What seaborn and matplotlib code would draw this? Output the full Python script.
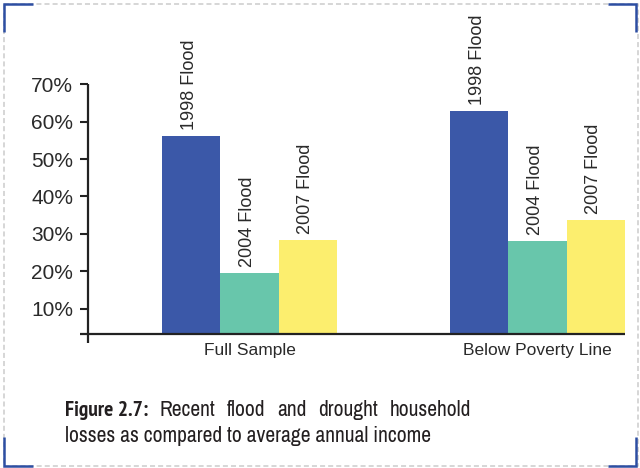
import numpy as np
import pandas as pd
import seaborn as sns
import matplotlib
matplotlib.use("Agg")
import matplotlib.pyplot as plt
from matplotlib import font_manager
from matplotlib.font_manager import FontProperties
from matplotlib.lines import Line2D

# Data: household losses as a share of average annual income (%)
groups = ["Full Sample", "Below Poverty Line"]
floods = ["1998 Flood", "2004 Flood", "2007 Flood"]
full_sample = [56.2, 19.6, 28.4]
below_poverty = [62.9, 28.1, 33.7]
y_ticks = [10, 20, 30, 40, 50, 60, 70]
bar_colors = ["#3B58A8", "#68C6AB", "#FCEE6E"]

caption_bold = "Figure 2.7:"
caption_line1 = "Recent flood and drought household"
caption_line2 = "losses as compared to average annual income"

df = pd.DataFrame({
    "group": np.repeat(groups, len(floods)),
    "flood": floods * len(groups),
    "loss": full_sample + below_poverty,
})

sns.set_theme(style="white")
plt.rcParams["font.family"] = ["Liberation Sans", "DejaVu Sans"]


def narrow_font(bold):
    """Pick a condensed sans face for the caption, if one is installed."""
    want = {"bold", 700, "700"} if bold else {"normal", "regular", 400, "400", "book"}
    entries = [f for f in font_manager.fontManager.ttflist
               if f.style == "normal" and f.weight in want]

    def rank(f):
        if f.name == "Liberation Sans Narrow":
            return 0
        if "Narrow" in f.name:
            return 1
        if "Condensed" in f.name and "Semi" not in f.name:
            return 2
        if str(f.stretch) in ("condensed", "semi-condensed"):
            return 3
        return None

    ranked = sorted((rank(f), f.name, f.fname) for f in entries if rank(f) is not None)
    if ranked:
        return FontProperties(fname=ranked[0][2]), True
    return FontProperties(family="Liberation Sans",
                          weight="bold" if bold else "normal"), False


cap_reg, cond = narrow_font(False)
cap_bold, _ = narrow_font(True)
cap_size = 15.5 if cond else 12.8
cap_reg.set_size(cap_size)
cap_bold.set_size(cap_size)
if cap_bold.get_file() is None:
    cap_bold.set_weight("bold")

W, H = 640, 468
fig = plt.figure(figsize=(W / 100, H / 100), dpi=100)
fig.patch.set_facecolor("white")


def fx(px):
    return px / W


def fy(py):
    return 1 - py / H


# plot area: y axis at x=88, baseline at y=334, 70% line at y=84
ax = fig.add_axes([fx(88), fy(334), fx(625) - fx(88), fy(84.3) - fy(334)])
sns.barplot(
    data=df, x="group", y="loss", hue="flood",
    order=groups, hue_order=floods, palette=bar_colors,
    saturation=1, width=0.608, gap=0, errorbar=None,
    legend=False, ax=ax, linewidth=0, edgecolor="none",
)
ax.set_xlim(-0.561, 1.304)
ax.set_ylim(3.22, 70)
ax.set_xlabel("")
ax.set_ylabel("")
ax.set_facecolor("none")

for s in ax.spines.values():
    s.set_visible(False)

axis_col = "#222222"
ax_h = 334 - 84.3
ax_w = 625 - 88
ax.add_line(Line2D([0, 0], [1, -9 / ax_h], transform=ax.transAxes,
                   color=axis_col, lw=1.6, clip_on=False, solid_capstyle="butt"))
ax.add_line(Line2D([-8 / ax_w, 1], [0, 0], transform=ax.transAxes,
                   color=axis_col, lw=1.6, clip_on=False, solid_capstyle="butt"))

ax.set_yticks(y_ticks)
ax.set_yticklabels([f"{t}%" for t in y_ticks])
ax.tick_params(axis="y", left=True, direction="out", length=5.8, width=1.5,
               color=axis_col, pad=5, labelsize=15, labelcolor="#2a2a2a")
ax.tick_params(axis="x", bottom=False, length=0, pad=6.5,
               labelsize=12.5, labelcolor="#2a2a2a")

# rotated flood labels sitting on top of each bar
for i, cont in enumerate(ax.containers):
    for bar in cont:
        xc = bar.get_x() + bar.get_width() / 2
        top = bar.get_y() + bar.get_height()
        ax.annotate(floods[i], xy=(xc, top), xytext=(-1.5, 4.5),
                    textcoords="offset points", rotation=90,
                    ha="center", va="bottom", fontsize=13, color="#2a2a2a",
                    annotation_clip=False)

# caption, first line justified between x=65 and x=471
renderer = fig.canvas.get_renderer()
left_px, right_px = 65, 471
base1, base2 = 416, 442
items = [fig.text(fx(left_px), fy(base1), caption_bold, fontproperties=cap_bold,
                  color="#231f20", va="baseline")]
for w in caption_line1.split():
    items.append(fig.text(0, fy(base1), w, fontproperties=cap_reg,
                          color="#231f20", va="baseline"))
widths = [t.get_window_extent(renderer).width for t in items]
gap = (right_px - left_px - sum(widths)) / (len(items) - 1)
x = left_px
for t, w in zip(items, widths):
    t.set_x(fx(x))
    x += w + gap
fig.text(fx(left_px), fy(base2), caption_line2, fontproperties=cap_reg,
         color="#231f20", va="baseline")

# dashed frame
frame_col = "#cccccc"
fx0, fx1, fy0, fy1 = 3.5, 637.5, 3.5, 466
fig.add_artist(Line2D([fx(fx0), fx(fx1), fx(fx1), fx(fx0), fx(fx0)],
                      [fy(fy0), fy(fy0), fy(fy1), fy(fy1), fy(fy0)],
                      transform=fig.transFigure, color=frame_col, lw=1.1,
                      linestyle=(0, (3.3, 2.0))))

# blue corner brackets
blue = "#2D4EA2"
corners = [
    ([4, 4, 33], [32, 4, 4]),
    ([608, 636, 636], [4, 4, 32]),
    ([4, 4, 33], [437, 466, 466]),
    ([608, 636, 636], [466, 466, 437]),
]
for xs, ys in corners:
    fig.add_artist(Line2D([fx(v) for v in xs], [fy(v) for v in ys],
                          transform=fig.transFigure, color=blue, lw=1.8,
                          solid_joinstyle="miter", solid_capstyle="butt"))

fig.savefig("out.png", dpi=100, facecolor="white")
